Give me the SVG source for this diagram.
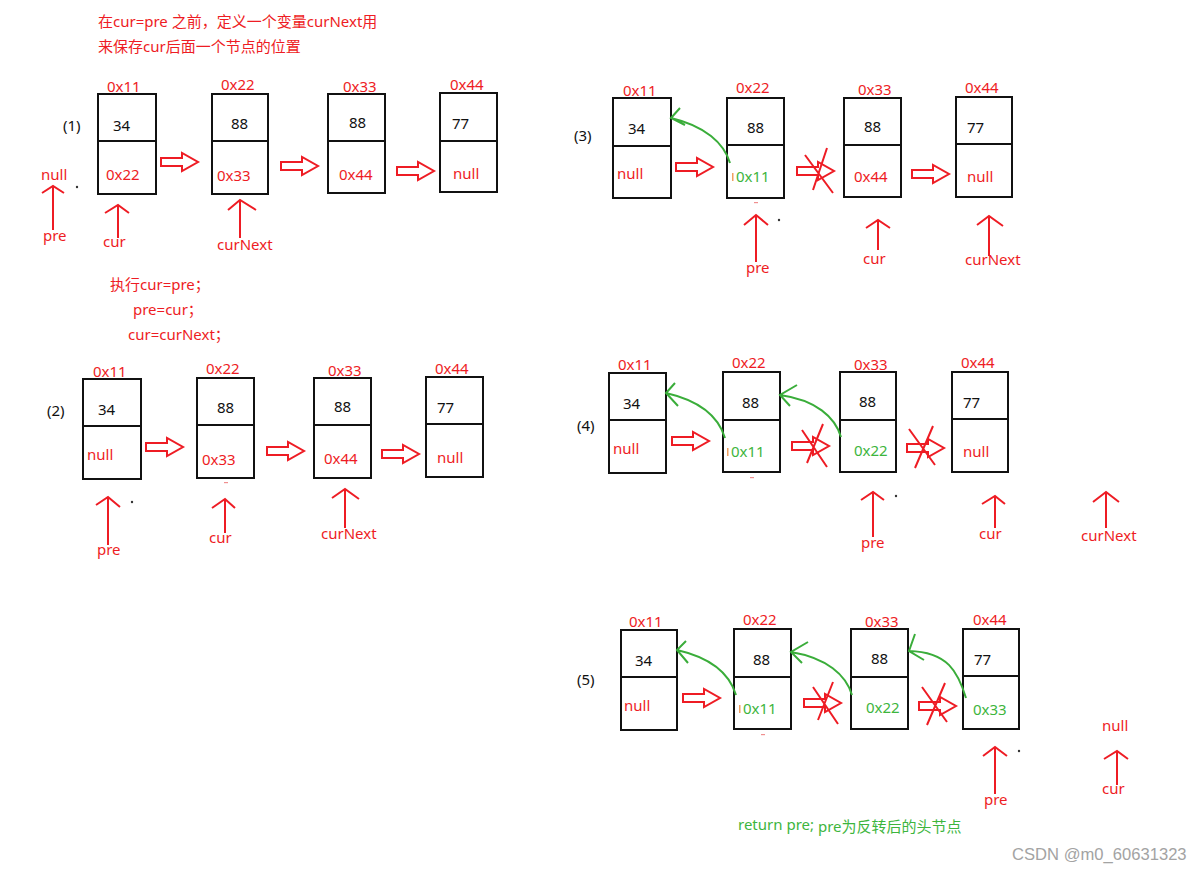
<svg xmlns="http://www.w3.org/2000/svg" xmlns:xlink="http://www.w3.org/1999/xlink" width="1203" height="872" viewBox="0 0 1203 872">
<style>
.t{font-family:"Noto Sans","Noto Sans CJK SC",sans-serif;font-size:15px}
.r{fill:#ee1c24}
.k{fill:#111}
.g{fill:#3db53d}
.box{fill:none;stroke:#111;stroke-width:2}
.ptr{fill:none;stroke:#ee1c24;stroke-width:2}
.x{fill:none;stroke:#ee1c24;stroke-width:2}
.ha{fill:#fff;stroke:#ee1c24;stroke-width:2}
.gc{fill:none;stroke:#3aad3a;stroke-width:2}
.wm{font-family:"Liberation Sans",Arial,sans-serif;font-size:16.6px;fill:#a3a3a3}
</style>
<defs>
<path id="ha" class="ha" d="M0,-4 H21 V-9 L37,0 L21,9 V4 H0 Z"/>
</defs>
<rect width="1203" height="872" fill="#fff"/>

<!-- notes -->
<g id="notes">
<text class="t r" x="98" y="27">在cur=pre 之前，定义一个变量curNext用</text>
<text class="t r" x="98" y="52">来保存cur后面一个节点的位置</text>
<text class="t r" x="110" y="290">执行cur=pre；</text>
<text class="t r" x="133" y="315">pre=cur；</text>
<text class="t r" x="128" y="340">cur=curNext；</text>
<text class="t g" x="738" y="830">return pre;</text>
<text class="t g" x="818" y="832">pre为反转后的头节点</text>
<text class="wm" x="1012" y="860">CSDN @m0_60631323</text>
<text class="t k" x="63" y="131">(1)</text>
<text class="t k" x="47" y="416">(2)</text>
<text class="t k" x="574" y="141">(3)</text>
<text class="t k" x="577" y="431">(4)</text>
<text class="t k" x="577" y="685">(5)</text>
</g>

<!-- Panel 1 -->
<g id="p1n1"><rect class="box" x="98" y="94" width="58" height="100"/><line class="box" x1="98" y1="141" x2="156" y2="141"/>
<text class="t r" x="107" y="92">0x11</text><text class="t k" x="113" y="131">34</text><text class="t r" x="106" y="180">0x22</text></g>
<g id="p1n2"><rect class="box" x="212" y="94" width="56" height="100"/><line class="box" x1="212" y1="141" x2="268" y2="141"/>
<text class="t r" x="221" y="90">0x22</text><text class="t k" x="231" y="129">88</text><text class="t r" x="217" y="181">0x33</text></g>
<g id="p1n3"><rect class="box" x="328" y="94" width="57" height="99"/><line class="box" x1="328" y1="141" x2="385" y2="141"/>
<text class="t r" x="343" y="92">0x33</text><text class="t k" x="349" y="128">88</text><text class="t r" x="339" y="180">0x44</text></g>
<g id="p1n4"><rect class="box" x="440" y="93" width="57" height="99"/><line class="box" x1="440" y1="141" x2="497" y2="141"/>
<text class="t r" x="450" y="90">0x44</text><text class="t k" x="452" y="129">77</text><text class="t r" x="453" y="179">null</text></g>
<g id="p1labels">
<text class="t r" x="41" y="180">null</text>
<text class="t r" x="43" y="241">pre</text>
<text class="t r" x="103" y="247">cur</text>
<text class="t r" x="217" y="250">curNext</text>
<circle cx="77" cy="187" r="1.2" fill="#333"/>
</g>

<!-- Panel 2 -->
<g id="p2n1"><rect class="box" x="83" y="379" width="58" height="100"/><line class="box" x1="83" y1="426" x2="141" y2="426"/>
<text class="t r" x="93" y="377">0x11</text><text class="t k" x="98" y="415">34</text><text class="t r" x="87" y="460">null</text></g>
<g id="p2n2"><rect class="box" x="197" y="378" width="57" height="100"/><line class="box" x1="197" y1="425" x2="254" y2="425"/>
<text class="t r" x="206" y="374">0x22</text><text class="t k" x="217" y="413">88</text><text class="t r" x="202" y="465">0x33</text></g>
<g id="p2n3"><rect class="box" x="314" y="378" width="57" height="100"/><line class="box" x1="314" y1="425" x2="371" y2="425"/>
<text class="t r" x="328" y="376">0x33</text><text class="t k" x="334" y="412">88</text><text class="t r" x="324" y="464">0x44</text></g>
<g id="p2n4"><rect class="box" x="426" y="377" width="57" height="100"/><line class="box" x1="426" y1="424" x2="483" y2="424"/>
<text class="t r" x="435" y="374">0x44</text><text class="t k" x="437" y="413">77</text><text class="t r" x="437" y="463">null</text></g>
<g id="p2labels">
<text class="t r" x="97" y="555">pre</text>
<text class="t r" x="209" y="543">cur</text>
<text class="t r" x="321" y="539">curNext</text>
<circle cx="132" cy="502" r="1.2" fill="#333"/>
<rect x="224" y="482" width="4" height="1.2" fill="#f09090"/>
</g>

<!-- Panel 3 -->
<g id="p3n1"><rect class="box" x="613" y="98" width="58" height="100"/><line class="box" x1="613" y1="146" x2="671" y2="146"/>
<text class="t r" x="623" y="96">0x11</text><text class="t k" x="628" y="134">34</text><text class="t r" x="617" y="179">null</text></g>
<g id="p3n2"><rect class="box" x="727" y="98" width="57" height="100"/><line class="box" x1="727" y1="145" x2="784" y2="145"/>
<text class="t r" x="736" y="93">0x22</text><text class="t k" x="747" y="133">88</text><text class="t g" x="736" y="182">0x11</text><rect x="732" y="173" width="1.5" height="8" fill="#f0a060"/></g>
<g id="p3n3"><rect class="box" x="844" y="98" width="57" height="99"/><line class="box" x1="844" y1="145" x2="901" y2="145"/>
<text class="t r" x="858" y="95">0x33</text><text class="t k" x="864" y="132">88</text><text class="t r" x="854" y="182">0x44</text></g>
<g id="p3n4"><rect class="box" x="956" y="97" width="56" height="100"/><line class="box" x1="956" y1="144" x2="1012" y2="144"/>
<text class="t r" x="965" y="93">0x44</text><text class="t k" x="967" y="133">77</text><text class="t r" x="967" y="182">null</text></g>
<g id="p3labels">
<text class="t r" x="746" y="273">pre</text>
<text class="t r" x="863" y="264">cur</text>
<text class="t r" x="965" y="265">curNext</text>
<circle cx="779" cy="220" r="1.2" fill="#333"/>
<rect x="754" y="202" width="4" height="1.2" fill="#f09090"/>
</g>

<!-- Panel 4 -->
<g id="p4n1"><rect class="box" x="609" y="373" width="57" height="100"/><line class="box" x1="609" y1="420" x2="666" y2="420"/>
<text class="t r" x="618" y="370">0x11</text><text class="t k" x="623" y="409">34</text><text class="t r" x="613" y="454">null</text></g>
<g id="p4n2"><rect class="box" x="723" y="372" width="57" height="100"/><line class="box" x1="723" y1="420" x2="780" y2="420"/>
<text class="t r" x="732" y="368">0x22</text><text class="t k" x="742" y="408">88</text><text class="t g" x="731" y="457">0x11</text><rect x="727" y="448" width="1.5" height="8" fill="#f0a060"/></g>
<g id="p4n3"><rect class="box" x="840" y="372" width="56" height="100"/><line class="box" x1="840" y1="420" x2="896" y2="420"/>
<text class="t r" x="854" y="370">0x33</text><text class="t k" x="859" y="407">88</text><text class="t g" x="854" y="456">0x22</text></g>
<g id="p4n4"><rect class="box" x="952" y="372" width="56" height="100"/><line class="box" x1="952" y1="419" x2="1008" y2="419"/>
<text class="t r" x="961" y="368">0x44</text><text class="t k" x="963" y="408">77</text><text class="t r" x="963" y="457">null</text></g>
<g id="p4labels">
<text class="t r" x="861" y="548">pre</text>
<text class="t r" x="979" y="539">cur</text>
<text class="t r" x="1081" y="541">curNext</text>
<circle cx="896" cy="496" r="1.2" fill="#333"/>
<rect x="750" y="477" width="4" height="1.2" fill="#f09090"/>
</g>

<!-- Panel 5 -->
<g id="p5n1"><rect class="box" x="621" y="630" width="56" height="100"/><line class="box" x1="621" y1="677" x2="677" y2="677"/>
<text class="t r" x="629" y="627">0x11</text><text class="t k" x="635" y="666">34</text><text class="t r" x="624" y="711">null</text></g>
<g id="p5n2"><rect class="box" x="734" y="629" width="57" height="100"/><line class="box" x1="734" y1="677" x2="791" y2="677"/>
<text class="t r" x="743" y="625">0x22</text><text class="t k" x="753" y="665">88</text><text class="t g" x="743" y="714">0x11</text><rect x="739" y="705" width="1.5" height="8" fill="#f0a060"/></g>
<g id="p5n3"><rect class="box" x="851" y="629" width="57" height="100"/><line class="box" x1="851" y1="677" x2="908" y2="677"/>
<text class="t r" x="865" y="627">0x33</text><text class="t k" x="871" y="664">88</text><text class="t g" x="866" y="713">0x22</text></g>
<g id="p5n4"><rect class="box" x="963" y="629" width="56" height="100"/><line class="box" x1="963" y1="676" x2="1019" y2="676"/>
<text class="t r" x="973" y="625">0x44</text><text class="t k" x="974" y="665">77</text><text class="t g" x="973" y="715">0x33</text></g>
<g id="p5labels">
<text class="t r" x="984" y="805">pre</text>
<text class="t r" x="1102" y="731">null</text>
<text class="t r" x="1102" y="794">cur</text>
<circle cx="1019" cy="751" r="1.2" fill="#333"/>
<rect x="761" y="734" width="4" height="1.2" fill="#f09090"/>
</g>

<!-- connectors -->
<g id="connectors">
<!-- hollow next arrows -->
<use xlink:href="#ha" x="161" y="162"/>
<use xlink:href="#ha" x="281" y="166"/>
<use xlink:href="#ha" x="397" y="171"/>
<use xlink:href="#ha" x="146" y="447"/>
<use xlink:href="#ha" x="267" y="451"/>
<use xlink:href="#ha" x="382" y="454"/>
<use xlink:href="#ha" x="676" y="167"/>
<use xlink:href="#ha" x="797" y="171"/>
<use xlink:href="#ha" x="912" y="174"/>
<use xlink:href="#ha" x="672" y="441"/>
<use xlink:href="#ha" x="792" y="446"/>
<use xlink:href="#ha" x="907" y="448"/>
<use xlink:href="#ha" x="683" y="698"/>
<use xlink:href="#ha" x="804" y="703"/>
<use xlink:href="#ha" x="919" y="706"/>
<!-- crosses -->
<path class="x" d="M805,155 L833,193 M827,148 L813,190"/>
<path class="x" d="M802,430 L827,467 M823,424 L807,463"/>
<path class="x" d="M909,429 L935,465 M933,426 L915,468"/>
<path class="x" d="M813,687 L838,724 M833,682 L818,720"/>
<path class="x" d="M922,687 L947,722 M945,683 L927,725"/>
<!-- pointers -->
<path class="ptr" d="M53,230 V186 M42,193 L53,186 L64,193"/>
<path class="ptr" d="M118,238 V205 M105,213 L118,205 L129,213"/>
<path class="ptr" d="M240,238 V200 M228,210 L240,200 L256,210"/>
<path class="ptr" d="M108,545 V497 M96,505 L108,497 L120,507"/>
<path class="ptr" d="M225,533 V499 M212,508 L225,499 L235,508"/>
<path class="ptr" d="M345,528 V489 M332,498 L345,489 L359,499"/>
<path class="ptr" d="M756,262 V215 M744,225 L756,215 L768,225"/>
<path class="ptr" d="M878,250 V220 M866,228 L878,220 L890,228"/>
<path class="ptr" d="M989,256 V216 M977,225 L989,216 L1003,226"/>
<path class="ptr" d="M873,537 V492 M861,500 L873,492 L884,500"/>
<path class="ptr" d="M995,528 V496 M982,504 L995,496 L1005,504"/>
<path class="ptr" d="M1106,528 V492 M1093,502 L1106,492 L1119,502"/>
<path class="ptr" d="M995,794 V747 M983,756 L995,747 L1007,756"/>
<path class="ptr" d="M1117,785 V751 M1104,759 L1117,751 L1128,759"/>
<!-- green reversed links -->
<path class="gc" d="M730,163 C724,143 705,126 671,118 M680,108 L671,118 L685,125"/>
<path class="gc" d="M725,438 C719,418 701,401 666,393 M675,383 L666,393 L678,406"/>
<path class="gc" d="M841,437 C835,417 816,400 780,395 M797,385 L780,395 L790,406"/>
<path class="gc" d="M736,695 C730,675 712,658 677,650 M686,641 L677,650 L688,663"/>
<path class="gc" d="M852,695 C846,675 827,658 791,652 M808,642 L791,652 L802,663"/>
<path class="gc" d="M966,698 C958,672 948,652 909,651 M915,634 L909,651 L924,660"/>
</g>
</svg>
